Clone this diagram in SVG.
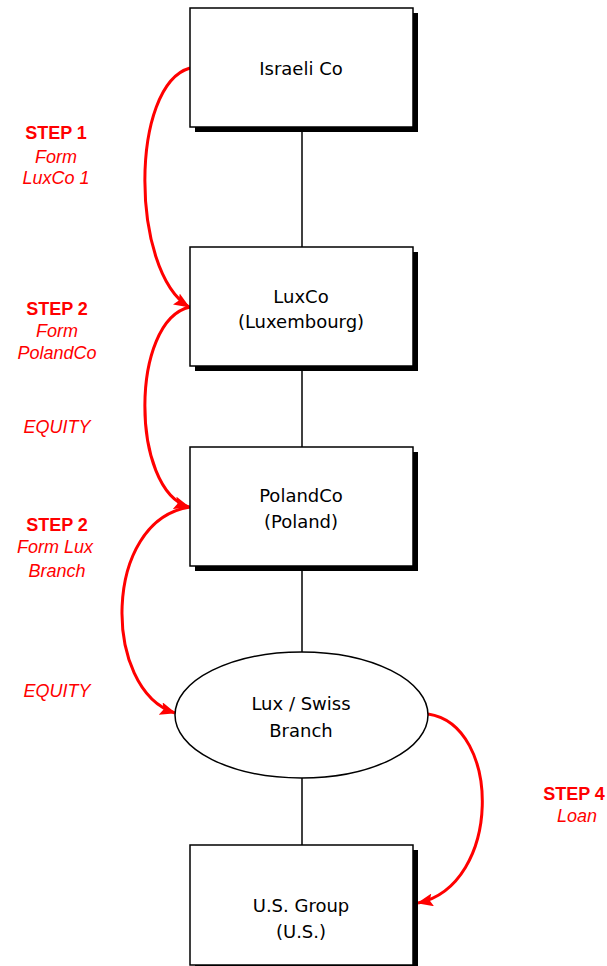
<svg xmlns="http://www.w3.org/2000/svg" width="607" height="966" viewBox="0 0 607 966">
<style>
.shadow{fill:#000;}
.box{fill:#fff;stroke:#000;stroke-width:1.5;}
.nt{font-family:"DejaVu Sans",sans-serif;font-size:18px;fill:#000;text-anchor:middle;}
.st{font-family:"Liberation Sans",Arial,sans-serif;font-size:18px;font-weight:bold;fill:#ff0000;text-anchor:middle;}
.it{font-family:"Liberation Sans",Arial,sans-serif;font-size:18px;font-style:italic;fill:#ff0000;text-anchor:middle;}
.conn{stroke:#000;stroke-width:1.5;fill:none;}
.red{stroke:#ff0000;stroke-width:3;fill:none;marker-end:url(#ah);}
</style>
<defs>
<marker id="ah" viewBox="0 0 16 13" refX="15" refY="6.5" markerWidth="16" markerHeight="13" markerUnits="userSpaceOnUse" orient="auto">
<path d="M0,0 L16,6.5 L0,13 L3,6.5 Z" fill="#ff0000"/>
</marker>
</defs>
<rect width="607" height="966" fill="#fff"/>
<g id="connectors">
<line class="conn" x1="302" y1="127" x2="302" y2="247"/>
<line class="conn" x1="302" y1="366" x2="302" y2="447"/>
<line class="conn" x1="302" y1="566" x2="302" y2="652"/>
<line class="conn" x1="302" y1="778" x2="302" y2="845"/>
<path class="red" d="M190,68 C130,85 130,270 189,307"/>
<path class="red" d="M190,307 C130,320 130,490 189,507"/>
<path class="red" d="M190,507 C102,520 102,690 175,713"/>
<path class="red" d="M428,714 C502,725 502,885 418,903"/>
</g>
<g id="israeli">
<rect class="shadow" x="195" y="13" width="223" height="119"/>
<rect class="box" x="190" y="8" width="223" height="119"/>
<text class="nt" x="301" y="75">Israeli Co</text>
</g>
<g id="luxco">
<rect class="shadow" x="195" y="252" width="223" height="119"/>
<rect class="box" x="190" y="247" width="223" height="119"/>
<text class="nt" x="301" y="303">LuxCo</text>
<text class="nt" x="301" y="328">(Luxembourg)</text>
</g>
<g id="polandco">
<rect class="shadow" x="195" y="452" width="223" height="119"/>
<rect class="box" x="190" y="447" width="223" height="119"/>
<text class="nt" x="301" y="502">PolandCo</text>
<text class="nt" x="301" y="528">(Poland)</text>
</g>
<g id="branch">
<ellipse class="box" cx="301.5" cy="715" rx="126.5" ry="63"/>
<text class="nt" x="301" y="710">Lux / Swiss</text>
<text class="nt" x="301" y="737">Branch</text>
</g>
<g id="usgroup">
<rect class="shadow" x="195" y="850" width="223" height="120"/>
<rect class="box" x="190" y="845" width="223" height="120"/>
<text class="nt" x="301" y="912">U.S. Group</text>
<text class="nt" x="301" y="938">(U.S.)</text>
</g>
<g id="labels">
<text class="st" x="56" y="139">STEP 1</text>
<text class="it" x="56" y="163">Form</text>
<text class="it" x="56" y="184">LuxCo 1</text>
<text class="st" x="57" y="315">STEP 2</text>
<text class="it" x="57" y="337">Form</text>
<text class="it" x="57" y="359">PolandCo</text>
<text class="it" x="57" y="433">EQUITY</text>
<text class="st" x="57" y="531">STEP 2</text>
<text class="it" x="55" y="553">Form Lux</text>
<text class="it" x="57" y="577">Branch</text>
<text class="it" x="57" y="697">EQUITY</text>
<text class="st" x="574" y="800">STEP 4</text>
<text class="it" x="577" y="822">Loan</text>
</g>
</svg>
